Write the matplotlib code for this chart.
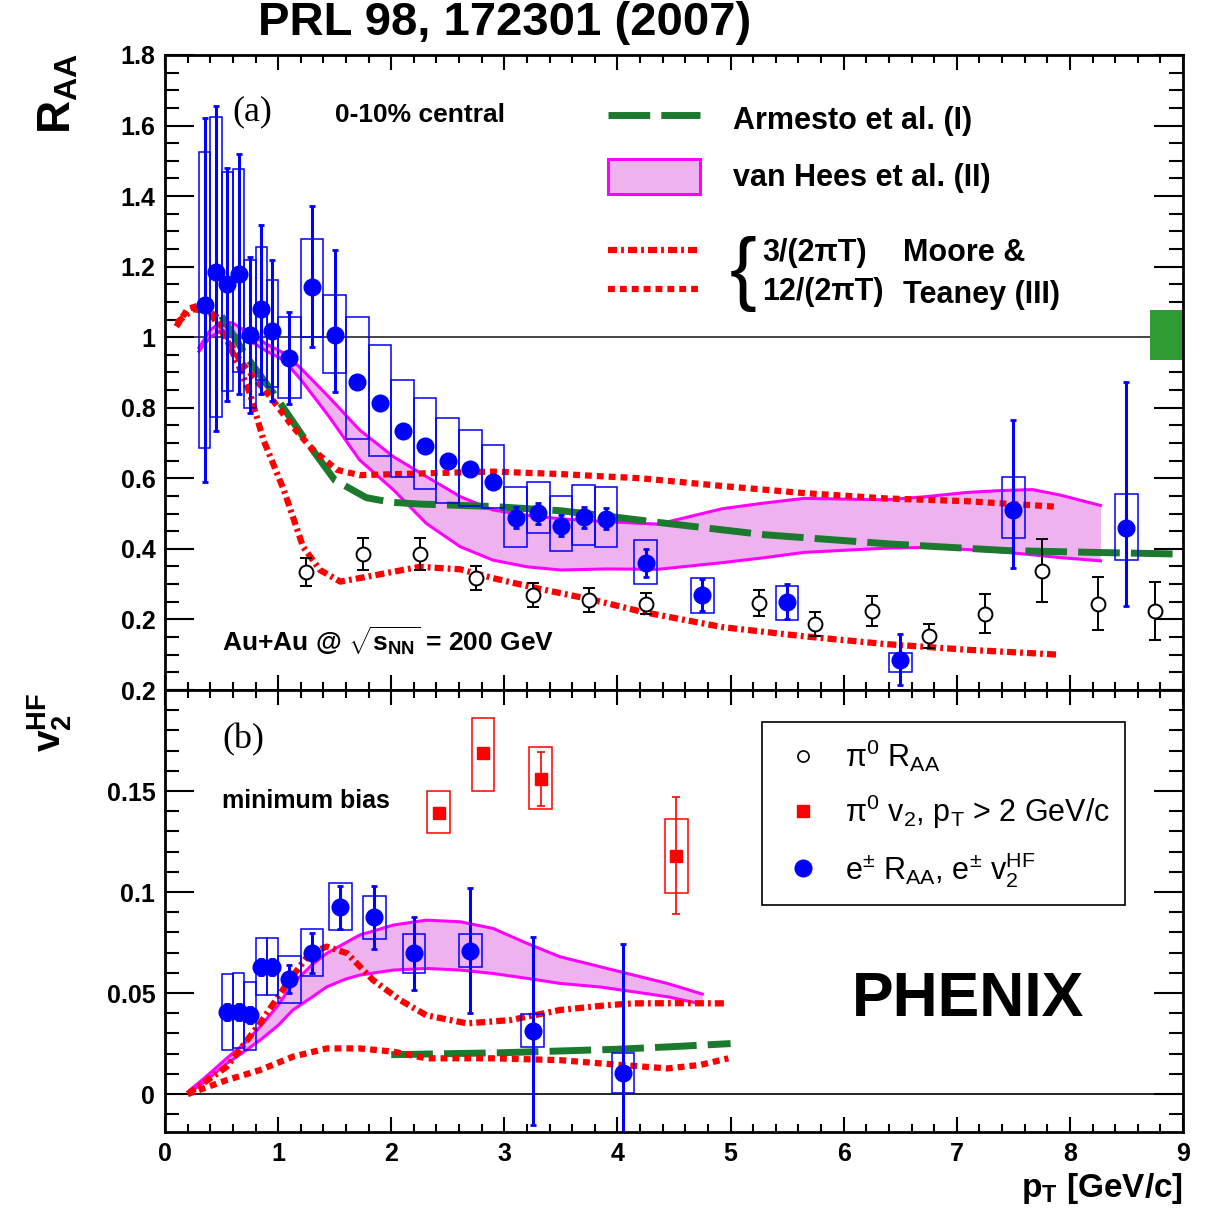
import numpy as np
import matplotlib
matplotlib.use('Agg')
import matplotlib.pyplot as plt
from matplotlib.patches import Rectangle, Patch
from matplotlib.lines import Line2D
from matplotlib.ticker import MultipleLocator, FuncFormatter

plt.rcParams['font.family'] = ['Liberation Sans', 'DejaVu Sans']
plt.rcParams['font.weight'] = 'bold'
plt.rcParams['mathtext.fontset'] = 'custom'
plt.rcParams['mathtext.rm'] = 'Liberation Sans:weight=normal'
plt.rcParams['mathtext.bf'] = 'Liberation Sans:weight=bold'
plt.rcParams['mathtext.it'] = 'Liberation Sans:italic:weight=normal'

# ---------------- (a) R_AA, 0-10% central ----------------
# heavy-flavour electrons
e_pt = [0.35, 0.45, 0.55, 0.65, 0.75, 0.85, 0.95, 1.1, 1.3, 1.5, 1.7, 1.9, 2.1, 2.3,
        2.5, 2.7, 2.9, 3.1, 3.3, 3.5, 3.7, 3.9, 4.25, 4.75, 5.5, 6.5, 7.5, 8.5]
e_raa = [1.09, 1.185, 1.15, 1.18, 1.006, 1.079, 1.018, 0.94, 1.142, 1.006, 0.872, 0.814, 0.734, 0.692,
         0.648, 0.626, 0.589, 0.488, 0.501, 0.466, 0.49, 0.485, 0.36, 0.27, 0.25, 0.085, 0.51, 0.458]
e_raa_lo = [0.50, 0.45, 0.33, 0.34, 0.22, 0.24, 0.20, 0.13, 0.17, 0.16, 0.015, 0.015, 0.015, 0.015,
            0.015, 0.015, 0.015, 0.03, 0.03, 0.03, 0.03, 0.03, 0.04, 0.045, 0.05, 0.07, 0.165, 0.22]
e_raa_hi = [0.53, 0.47, 0.33, 0.34, 0.22, 0.24, 0.20, 0.13, 0.23, 0.24, 0.015, 0.015, 0.015, 0.015,
            0.015, 0.015, 0.015, 0.03, 0.03, 0.03, 0.03, 0.03, 0.04, 0.045, 0.05, 0.075, 0.255, 0.415]
e_raa_sys_lo = [0.685, 0.775, 0.848, 0.90, 0.80, 0.88, 0.86, 0.827, 1.0, 0.898, 0.711, 0.663, 0.605, 0.569,
                0.529, 0.522, 0.516, 0.406, 0.444, 0.394, 0.411, 0.404, 0.299, 0.218, 0.198, 0.051, 0.430, 0.368]
e_raa_sys_hi = [1.526, 1.623, 1.469, 1.478, 1.22, 1.256, 1.162, 1.058, 1.278, 1.121, 1.058, 0.978, 0.879, 0.827,
                0.770, 0.737, 0.694, 0.576, 0.590, 0.551, 0.581, 0.576, 0.426, 0.318, 0.295, 0.105, 0.604, 0.555]

# neutral pions
pi0_pt = [1.25, 1.75, 2.25, 2.75, 3.25, 3.75, 4.25, 5.25, 5.75, 6.25, 6.75, 7.25, 7.75, 8.25, 8.75]
pi0_raa = [0.335, 0.385, 0.385, 0.317, 0.269, 0.255, 0.245, 0.247, 0.187, 0.224, 0.153, 0.216, 0.338, 0.244, 0.224]
pi0_raa_err = [0.04, 0.045, 0.045, 0.035, 0.035, 0.035, 0.03, 0.037, 0.034, 0.043, 0.035, 0.055, 0.09, 0.075, 0.083]

# normalisation uncertainty at R_AA = 1
norm_lo, norm_hi = 0.935, 1.077

# model curves (I), (II), (III)
arm_pt = [0.5, 0.72, 0.97, 1.24, 1.5, 1.78, 2.0, 2.25, 2.9, 3.5, 3.8, 4.36, 5.3, 6.4, 7.45, 8.2, 9.0]
arm_raa = [1.06, 0.945, 0.836, 0.709, 0.595, 0.545, 0.532, 0.527, 0.52, 0.508, 0.497, 0.475, 0.44, 0.414, 0.395, 0.39, 0.385]

hees_pt = [0.3, 0.4, 0.5, 0.6, 0.75, 0.9, 1.05, 1.2, 1.45, 1.72, 2.02, 2.31, 2.61, 2.9, 3.2, 3.5,
           3.9, 4.36, 4.93, 5.3, 5.65, 6.37, 6.73, 7.09, 7.38, 7.67, 7.92, 8.27]
hees_raa_hi = [0.97, 1.02, 1.045, 1.04, 1.01, 0.98, 0.955, 0.912, 0.83, 0.737, 0.661, 0.605, 0.548, 0.51, 0.495, 0.485,
               0.477, 0.47, 0.514, 0.53, 0.543, 0.539, 0.548, 0.56, 0.565, 0.568, 0.552, 0.523]
hees_raa_lo = [0.96, 1.0, 1.02, 1.01, 0.99, 0.96, 0.935, 0.88, 0.775, 0.652, 0.567, 0.472, 0.406, 0.368, 0.349, 0.34,
               0.343, 0.342, 0.361, 0.375, 0.39, 0.402, 0.404, 0.398, 0.392, 0.383, 0.375, 0.366]

mt3_pt = [0.1, 0.25, 0.4, 0.55, 0.65, 0.75, 0.87, 1.05, 1.22, 1.37, 1.55, 1.87, 2.25, 2.61, 2.9, 3.29,
          3.79, 4.21, 4.93, 5.65, 6.37, 7.09, 7.9]
mt3_raa = [1.04, 1.08, 1.07, 0.99, 0.92, 0.841, 0.709, 0.567, 0.406, 0.34, 0.307, 0.326, 0.349, 0.342, 0.317, 0.288,
           0.255, 0.222, 0.178, 0.152, 0.13, 0.114, 0.1]

mt12_pt = [0.1, 0.2, 0.3, 0.45, 0.55, 0.66, 0.8, 0.93, 1.13, 1.31, 1.52, 1.72, 2.3, 2.9, 3.5, 3.9,
           4.21, 4.93, 5.65, 6.37, 7.09, 7.9]
mt12_raa = [1.03, 1.08, 1.09, 1.06, 1.0, 0.935, 0.88, 0.831, 0.746, 0.68, 0.624, 0.609, 0.614, 0.619, 0.612, 0.605,
            0.6, 0.578, 0.558, 0.543, 0.535, 0.519]

# ---------------- (b) v2, minimum bias ----------------
v2_pt = [0.55, 0.65, 0.75, 0.85, 0.95, 1.1, 1.3, 1.55, 1.85, 2.2, 2.7, 3.25, 4.05]
v2_e = [0.0408, 0.0408, 0.039, 0.063, 0.063, 0.0568, 0.0697, 0.0924, 0.0875, 0.0697, 0.071, 0.0313, 0.0102]
v2_e_err = [0.004, 0.004, 0.004, 0.004, 0.004, 0.007, 0.01, 0.0105, 0.0155, 0.018, 0.031, 0.0465, 0.064]
v2_e_sys_lo = [0.0218, 0.0226, 0.0218, 0.049, 0.049, 0.0452, 0.0586, 0.0812, 0.0766, 0.060, 0.0627, 0.0235, 0.0003]
v2_e_sys_hi = [0.0594, 0.060, 0.0556, 0.0771, 0.0771, 0.0685, 0.0817, 0.1043, 0.098, 0.079, 0.079, 0.0395, 0.0201]

v2_pi0_pt = [2.42, 2.81, 3.32, 4.52]
v2_pi0 = [0.139, 0.169, 0.156, 0.118]
v2_pi0_err = [0.002, 0.002, 0.0135, 0.029]
v2_pi0_sys_lo = [0.129, 0.150, 0.141, 0.0994]
v2_pi0_sys_hi = [0.150, 0.186, 0.172, 0.136]

hees_v2_pt = [0.22, 0.35, 0.545, 0.7, 0.84, 1.0, 1.13, 1.3, 1.43, 1.6, 1.72, 2.02, 2.31, 2.61, 2.9, 3.2,
              3.49, 3.85, 4.1, 4.44, 4.75]
hees_v2_hi = [0.002, 0.008, 0.0177, 0.025, 0.0333, 0.044, 0.0548, 0.064, 0.0697, 0.075, 0.0787, 0.0837, 0.0861,
              0.0853, 0.082, 0.0746, 0.068, 0.063, 0.0595, 0.0548, 0.0495]
hees_v2_lo = [0.001, 0.006, 0.0152, 0.021, 0.0267, 0.034, 0.0416, 0.048, 0.0531, 0.057, 0.0589, 0.0614, 0.0622,
              0.0614, 0.0597, 0.0573, 0.0548, 0.053, 0.051, 0.0482, 0.0445]

mt3_v2_pt = [0.2, 0.545, 0.84, 1.08, 1.28, 1.43, 1.61, 1.84, 2.08, 2.31, 2.67, 3.05, 3.49, 3.91, 4.14, 4.5, 4.97]
mt3_v2 = [0.0, 0.0135, 0.035, 0.0548, 0.0697, 0.073, 0.0697, 0.0564, 0.0465, 0.039, 0.035, 0.0366, 0.0416,
          0.044, 0.0449, 0.045, 0.0449]
mt12_v2_pt = [0.2, 0.545, 0.84, 1.13, 1.43, 1.72, 2.02, 2.31, 2.9, 3.49, 3.85, 4.44, 4.73, 4.98]
mt12_v2 = [0.0, 0.0069, 0.0119, 0.0185, 0.0226, 0.0226, 0.021, 0.0177, 0.0177, 0.0168, 0.0152, 0.0127, 0.0144, 0.0177]
arm_v2_pt = [2.0, 3.0, 4.0, 4.5, 5.0]
arm_v2 = [0.0195, 0.0205, 0.0222, 0.0235, 0.025]

# colours / styles
GREEN = '#1b7a2d'
MAGENTA = '#ff00ff'
BAND = '#eeb3ee'
RED = '#ff0000'
BLUE = '#0000ff'
ls_arm = (0, (6, 1.6))
ls_mt3 = (0, (1.45, 0.65, 0.45, 0.65))
ls_mt12 = (0, (1.1, 0.8))


def sys_boxes(ax, x, lo, hi, color):
    for xi, l, h in zip(x, lo, hi):
        hw = 0.05 if xi < 1 else 0.1
        ax.add_patch(Rectangle((xi - hw, l), 2 * hw, h - l, fill=False,
                               ec=color, lw=1.1, zorder=3))


def style_axis(ax, ymajor, yminor):
    ax.set_xlim(0, 9)
    ax.xaxis.set_major_locator(MultipleLocator(1))
    ax.xaxis.set_minor_locator(MultipleLocator(0.2))
    ax.yaxis.set_major_locator(MultipleLocator(ymajor))
    ax.yaxis.set_minor_locator(MultipleLocator(yminor))
    ax.tick_params(which='both', direction='in', top=True, right=True,
                   width=1.5, labelsize=18, pad=7)
    ax.tick_params(axis='y', which='major', length=21)
    ax.tick_params(axis='y', which='minor', length=10)
    ax.tick_params(axis='x', which='major', length=11)
    ax.tick_params(axis='x', which='minor', length=5.5)
    for s in ax.spines.values():
        s.set_linewidth(2)
    ax.yaxis.set_major_formatter(FuncFormatter(lambda v, p: f'{v:g}'))


fig = plt.figure(figsize=(12.16, 12.22), dpi=100)
ax1 = fig.add_axes([0.1357, 0.4354, 0.8372, 0.5196])
ax2 = fig.add_axes([0.1357, 0.0736, 0.8372, 0.3617])

# ---- panel (a)
style_axis(ax1, 0.2, 0.05)
ax1.set_ylim(0, 1.8)
ax1.yaxis.set_major_formatter(FuncFormatter(lambda v, p: '' if abs(v) < 1e-6 else f'{v:g}'))
ax1.tick_params(axis='x', labelbottom=False)
ax1.axhline(1, color='#444444', lw=1.4, zorder=1)
ax1.bar(8.855, norm_hi - norm_lo, bottom=norm_lo, width=0.29, color='#2e9b33', zorder=2)

ax1.fill_between(hees_pt, hees_raa_lo, hees_raa_hi, color=BAND, lw=0, zorder=1)
ax1.plot(hees_pt, hees_raa_hi, color=MAGENTA, lw=2.2, zorder=2)
ax1.plot(hees_pt, hees_raa_lo, color=MAGENTA, lw=2.2, zorder=2)
ax1.plot(arm_pt, arm_raa, color=GREEN, lw=5, ls=ls_arm, zorder=2)
ax1.plot(mt3_pt, mt3_raa, color=RED, lw=4.5, ls=ls_mt3, zorder=2)
ax1.plot(mt12_pt, mt12_raa, color=RED, lw=4.5, ls=ls_mt12, zorder=2)

sys_boxes(ax1, e_pt, e_raa_sys_lo, e_raa_sys_hi, BLUE)
ax1.errorbar(pi0_pt, pi0_raa, yerr=pi0_raa_err, fmt='o', mfc='white', mec='black', mew=1.4,
             ms=10, ecolor='black', elinewidth=1.4, capsize=4, capthick=1.4, zorder=4)
ax1.errorbar(e_pt, e_raa, yerr=[e_raa_lo, e_raa_hi], fmt='o', color=BLUE, ms=12,
             elinewidth=2.2, capsize=2.5, capthick=2, zorder=5)

leg1 = ax1.legend(handles=[Line2D([], [], color=GREEN, lw=5, ls=ls_arm),
                           Patch(fc=BAND, ec=MAGENTA, lw=2.2)],
                  labels=['Armesto et al. (I)', 'van Hees et al. (II)'],
                  loc='upper left', bbox_to_anchor=(0.435, 0.927), frameon=False,
                  fontsize=22, handlelength=3.0, handleheight=1.4, handletextpad=1.08,
                  labelspacing=0.72, borderpad=0, borderaxespad=0)
ax1.add_artist(leg1)
ax1.legend(handles=[Line2D([], [], color=RED, lw=4.5, ls=ls_mt3),
                    Line2D([], [], color=RED, lw=4.5, ls=ls_mt12)],
           labels=['3/(2\u03c0T)', '12/(2\u03c0T)'],
           loc='upper left', bbox_to_anchor=(0.435, 0.712), frameon=False,
           fontsize=22, handlelength=3.0, handletextpad=2.06,
           labelspacing=0.3, borderpad=0, borderaxespad=0)
ax1.text(0.568, 0.655, '{', transform=ax1.transAxes, fontsize=58, fontweight='normal',
         ha='center', va='center')
ax1.text(0.725, 0.688, 'Moore &', transform=ax1.transAxes, fontsize=22, va='center')
ax1.text(0.725, 0.622, 'Teaney (III)', transform=ax1.transAxes, fontsize=22, va='center')

ax1.text(0.066, 0.910, '(a)', transform=ax1.transAxes, fontsize=26, fontweight='normal',
         family='Liberation Serif', va='center')
ax1.text(0.167, 0.906, '0-10% central', transform=ax1.transAxes, fontsize=19, va='center')
ax1.text(0.056, 0.0756, r'Au+Au @ $\mathbf{\sqrt{s_{NN}}}$ = 200 GeV', transform=ax1.transAxes,
         fontsize=19, va='center')

# ---- panel (b)
style_axis(ax2, 0.05, 0.01)
ax2.set_ylim(-0.0188, 0.2)
ax2.axhline(0, color='black', lw=1.2, zorder=1)

ax2.fill_between(hees_v2_pt, hees_v2_lo, hees_v2_hi, color=BAND, lw=0, zorder=1)
ax2.plot(hees_v2_pt, hees_v2_hi, color=MAGENTA, lw=2.2, zorder=2)
ax2.plot(hees_v2_pt, hees_v2_lo, color=MAGENTA, lw=2.2, zorder=2)
ax2.plot(arm_v2_pt, arm_v2, color=GREEN, lw=5, ls=ls_arm, zorder=2)
ax2.plot(mt3_v2_pt, mt3_v2, color=RED, lw=4.5, ls=ls_mt3, zorder=2)
ax2.plot(mt12_v2_pt, mt12_v2, color=RED, lw=4.5, ls=ls_mt12, zorder=2)

sys_boxes(ax2, v2_pt, v2_e_sys_lo, v2_e_sys_hi, BLUE)
sys_boxes(ax2, v2_pi0_pt, v2_pi0_sys_lo, v2_pi0_sys_hi, RED)
ax2.errorbar(v2_pi0_pt, v2_pi0, yerr=v2_pi0_err, fmt='s', color=RED, ms=8,
             elinewidth=1.2, capsize=3, capthick=1.2, zorder=4)
ax2.errorbar(v2_pt, v2_e, yerr=v2_e_err, fmt='o', color=BLUE, ms=12,
             elinewidth=2.2, capsize=2.5, capthick=2, zorder=5)

leg3 = ax2.legend(handles=[Line2D([], [], ls='none', marker='o', ms=8, mfc='white', mec='black', mew=1.2),
                           Line2D([], [], ls='none', marker='s', ms=8, color=RED),
                           Line2D([], [], ls='none', marker='o', ms=12, color=BLUE)],
                  labels=[r'$\mathrm{\pi^0}$ R$_{\mathrm{AA}}$',
                          r'$\mathrm{\pi^0}$ v$_{2}$, p$_{\mathrm{T}}$ > 2 GeV/c',
                          r'e$^{\pm}$ R$_{\mathrm{AA}}$, e$^{\pm}$ v$_{2}^{\mathrm{HF}}$'],
                  loc='upper left', bbox_to_anchor=(0.5865, 0.928), frameon=True,
                  fancybox=False, edgecolor='black', framealpha=1,
                  prop={'size': 22, 'weight': 'normal'}, handlelength=1.7,
                  handletextpad=0.5, labelspacing=0.62, borderpad=0.5, borderaxespad=0)
leg3.get_frame().set_linewidth(1.2)

ax2.text(0.056, 0.887, '(b)', transform=ax2.transAxes, fontsize=26, fontweight='normal',
         family='Liberation Serif', va='center')
ax2.text(0.056, 0.749, 'minimum bias', transform=ax2.transAxes, fontsize=18, va='center')
ax2.text(0.675, 0.299, 'PHENIX', transform=ax2.transAxes, fontsize=45, va='center')

ax2.set_xlabel(r'$\mathbf{p_T}$ [GeV/c]', fontsize=24, fontweight='bold', loc='right', labelpad=4)

fig.text(0.0485, 0.9566, r'$\mathbf{R_{AA}}$', rotation=90, fontsize=33, ha='center', va='top')
fig.text(0.041, 0.433, r'$\mathbf{v_2^{HF}}$', rotation=90, fontsize=28, ha='center', va='top')

fig.text(0.415, 0.981, 'PRL 98, 172301 (2007)', fontsize=34, ha='center', va='center')

fig.savefig('out.png', dpi=100)
